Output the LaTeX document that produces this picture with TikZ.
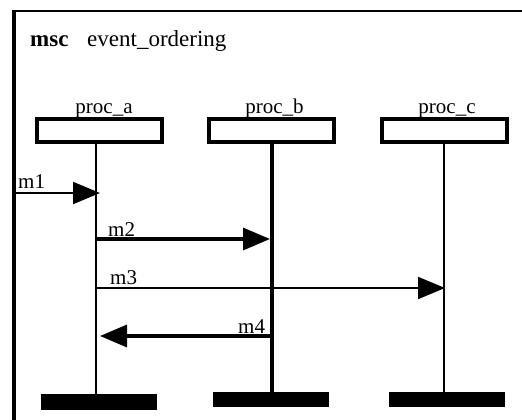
\documentclass[tikz,border=0pt]{standalone}
\usepackage{fontspec}
\setmainfont{Liberation Serif}
\usetikzlibrary{arrows.meta}

\tikzset{
  procbox/.style={draw, line width=4pt, minimum width=125pt, minimum height=23pt, inner sep=0pt},
  procname/.style={font=\fontsize{21pt}{24pt}\selectfont, anchor=base, inner sep=0pt},
  endbar/.style={fill=black, minimum width=116pt, minimum height=15.5pt, inner sep=0pt},
  lifeline/.style={line width=2.5pt},
  heavyline/.style={line width=3.5pt},
  msg/.style={line width=2pt, -{Triangle[length=27pt 0 0, width=22pt 0 0]}},
  heavymsg/.style={msg, line width=3.5pt},
  msglabel/.style={font=\fontsize{21pt}{24pt}\selectfont, anchor=base west, inner sep=0pt},
  titletext/.style={font=\fontsize{23pt}{26pt}\selectfont, anchor=base west, inner sep=0pt}
}

\begin{document}
\begin{tikzpicture}[x=1pt, y=-1pt]
  \useasboundingbox (0,0) rectangle (522,420);
  \fill[white] (0,0) rectangle (522,420);

  % diagram frame (open to the right and below)
  \draw[line width=4pt] (14,422) -- (14,10);
  \draw[line width=2.5pt] (12,11.25) -- (524,11.25);

  % heading
  \node[titletext, font=\fontsize{23pt}{26pt}\selectfont\bfseries] (kw) at (30,47) {msc};
  \node[titletext] (title) at (87,47) {event\_ordering};

  % instance heads
  \node[procbox] (pa) at (99.5,130.5) {};
  \node[procbox] (pb) at (271.3,130.5) {};
  \node[procbox] (pc) at (444.7,130.5) {};
  \node[procname] (na) at (104,113) {proc\_a};
  \node[procname] (nb) at (274.5,113) {proc\_b};
  \node[procname] (nc) at (447,113) {proc\_c};

  % instance ends
  \node[endbar] (ea) at (99,402) {};
  \node[endbar, minimum height=15pt] (eb) at (271,399.2) {};
  \node[endbar, minimum height=15pt] (ec) at (447.3,399.2) {};

  % lifelines
  \draw[lifeline]  ([xshift=-3.5pt]pa.south) -- ([xshift=-3pt]ea.north);
  \draw[heavyline] ([xshift=0.7pt]pb.south) -- ([xshift=1pt]eb.north);
  \draw[lifeline]  ([xshift=-0.7pt]pc.south) -- ([xshift=-3.3pt]ec.north);

  % event points on the lifelines
  \coordinate (env) at (14,193);
  \coordinate (a1) at (96,193);
  \coordinate (a2) at (96,239);
  \coordinate (b2) at (272,239);
  \coordinate (a3) at (96,288);
  \coordinate (c3) at (444,288);
  \coordinate (b4) at (272,336);
  \coordinate (a4) at (96,336);

  % messages
  \draw[msg, shorten >=-4pt] (env) -- (a1);
  \draw[heavymsg, shorten >=2pt] (a2) -- (b2);
  \draw[msg, shorten >=-1pt] (a3) -- (c3);
  \draw[heavymsg, shorten >=4pt] (b4) -- (a4);

  \node[msglabel] (l1) at (18,188) {m1};
  \node[msglabel] (l2) at (108,236) {m2};
  \node[msglabel] (l3) at (110,284.5) {m3};
  \node[msglabel] (l4) at (238,333) {m4};
\end{tikzpicture}
\end{document}
